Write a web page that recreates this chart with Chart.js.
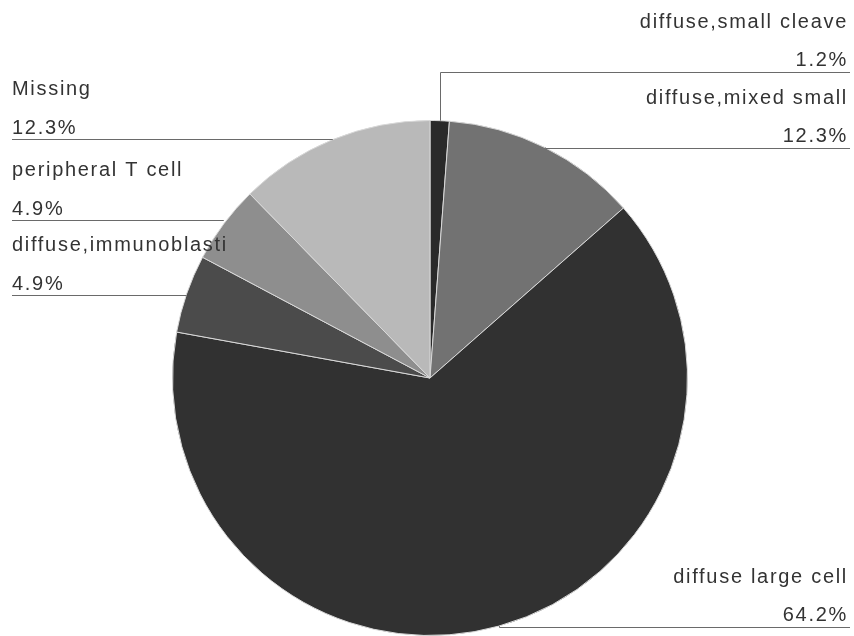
<!DOCTYPE html>
<html>
<head>
<meta charset="utf-8">
<script src="https://cdn.jsdelivr.net/npm/chart.js@4"></script>
<style>
  html, body { margin: 0; padding: 0; background: #fff; }
  #wrap { width: 854px; height: 636px; }
</style>
</head>
<body>
<div id="wrap"><canvas id="myChart" width="854" height="636"></canvas></div>
<script>
const ctx = document.getElementById('myChart').getContext('2d')

const labels = [
  'diffuse,small cleave',
  'diffuse,mixed small',
  'diffuse large cell',
  'diffuse,immunoblasti',
  'peripheral T cell',
  'Missing'
]
const values = [1.2, 12.3, 64.2, 4.9, 4.9, 12.3]
const percentLabels = ['1.2%', '12.3%', '64.2%', '4.9%', '4.9%', '12.3%']
const colors = ['#2a2a2a', '#727272', '#313131', '#4b4b4b', '#8e8e8e', '#b9b9b9']

// callout placement: side of the chart and y of the underline
const calloutSide = ['right', 'right', 'right', 'left', 'left', 'left']
const calloutLineY = [72, 148, 627, 295, 220, 139]

const calloutPlugin = {
  id: 'callouts',
  afterDatasetsDraw(chart) {
    const c = chart.ctx
    const arcs = chart.getDatasetMeta(0).data
    c.save()
    c.font = '20px "Liberation Sans", Arial, sans-serif'
    c.letterSpacing = '1.7px'
    c.fillStyle = '#333'
    c.strokeStyle = '#6a6a6a'
    c.lineWidth = 1
    arcs.forEach((arc, i) => {
      const mid = (arc.startAngle + arc.endAngle) / 2
      const ax = arc.x + Math.cos(mid) * arc.outerRadius
      const ay = arc.y + Math.sin(mid) * arc.outerRadius
      const ly = calloutLineY[i] + 0.5
      c.beginPath()
      if (calloutSide[i] === 'right') {
        c.moveTo(Math.round(ax) + 0.5, ay)
        c.lineTo(Math.round(ax) + 0.5, ly)
        c.lineTo(850, ly)
      } else {
        c.moveTo(ax, ly)
        c.lineTo(12, ly)
      }
      c.stroke()
      if (calloutSide[i] === 'right') {
        c.textAlign = 'right'
        c.fillText(labels[i], 848, calloutLineY[i] - 44)
        c.fillText(percentLabels[i], 848, calloutLineY[i] - 6)
      } else {
        c.textAlign = 'left'
        c.fillText(labels[i], 12, calloutLineY[i] - 44)
        c.fillText(percentLabels[i], 12, calloutLineY[i] - 5)
      }
    })
    c.restore()
  }
}

const config = {
  type: 'pie',
  data: {
    labels,
    datasets: [{
      data: values,
      backgroundColor: colors,
      borderColor: '#d8d8d8',
      borderWidth: 1
    }]
  },
  options: {
    responsive: false,
    animation: false,
    layout: { padding: { top: 120, bottom: 0, left: 172, right: 166 } },
    plugins: {
      legend: { display: false },
      tooltip: { enabled: false }
    }
  },
  plugins: [calloutPlugin]
}

const myChart = new Chart(ctx, config)
</script>
</body>
</html>
